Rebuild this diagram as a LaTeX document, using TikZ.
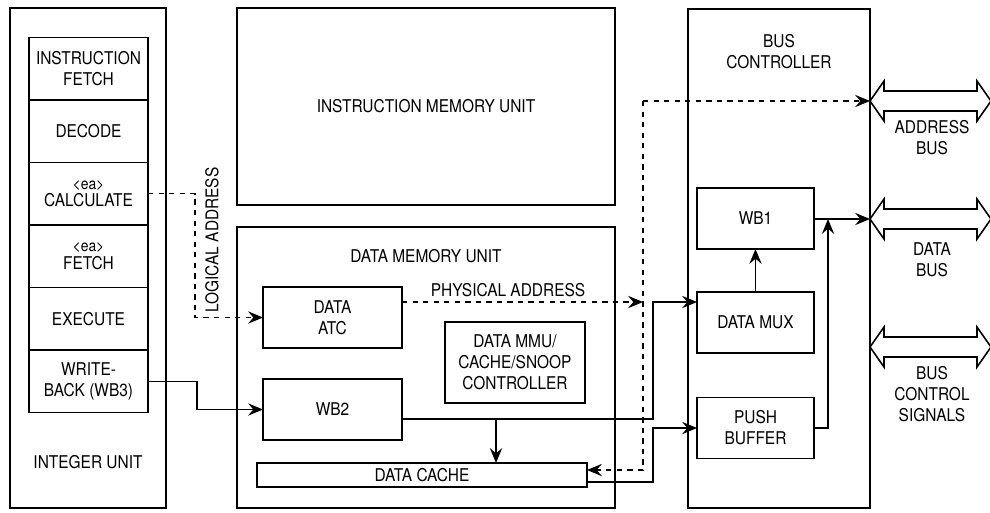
\documentclass[tikz,border=0pt]{standalone}
\usepackage{fontspec}
\setmainfont{TeX Gyre Heros}[FakeStretch=0.88]
\usetikzlibrary{arrows.meta,positioning}

\begin{document}
\begin{tikzpicture}[x=0.02cm, y=-0.02cm, >={Stealth[length=8.5pt,width=7pt,inset=3pt]},
    font=\fontsize{10}{12}\selectfont,
    unit/.style={draw, line width=1.3pt, inner sep=0pt, outer sep=0pt},
    blk/.style={draw, line width=0.9pt, align=center, inner sep=0pt, outer sep=0pt},
    stage/.style={blk, minimum width=2.38cm, minimum height=1.25cm},
    wire/.style={line width=0.75pt},
    bus/.style={draw, line width=0.9pt}]

    \useasboundingbox (0,0) rectangle (990,512);

    % Integer unit
    \node[unit, minimum width=3.12cm, minimum height=10cm] (iu) at (88,258) {};
    \node (iulbl) at (88,462) {INTEGER UNIT};
    \node[stage] (ifetch) at (88.5,68.75) {INSTRUCTION\\FETCH};
    \node[stage, below=0pt of ifetch] (decode) {DECODE};
    \node[stage, below=0pt of decode] (calc) {{\small <ea>}\\[-2pt]CALCULATE};
    \node[stage, below=0pt of calc] (eafetch) {{\small <ea>}\\[-2pt]FETCH};
    \node[stage, below=0pt of eafetch] (execute) {EXECUTE};
    \node[stage, below=0pt of execute] (wb3) {WRITE-\\BACK (WB3)};

    % Instruction memory unit
    \node[unit, minimum width=7.56cm, minimum height=3.94cm] (imu) at (426,106.5) {INSTRUCTION MEMORY UNIT};

    % Data memory unit
    \node[unit, minimum width=7.56cm, minimum height=5.62cm] (dmu) at (426,367.5) {};
    \node (dmulbl) at (426,256) {DATA MEMORY UNIT};
    \node[blk, minimum width=2.78cm, minimum height=1.22cm] (atc) at (332.5,317.5) {DATA\\ATC};
    \node[blk, minimum width=2.78cm, minimum height=1.22cm] (wb2) at (332.5,409.5) {WB2};
    \node[blk, minimum width=2.8cm, minimum height=1.62cm] (mmu) at (515,362.5) {DATA MMU/\\CACHE/SNOOP\\CONTROLLER};
    \node[blk, minimum width=6.6cm, minimum height=0.48cm] (dcache) at (422,475) {DATA CACHE};
    \node (palbl) at (508,290) {PHYSICAL ADDRESS};

    % Bus controller
    \node[unit, minimum width=3.64cm, minimum height=9.98cm] (bc) at (779,258.5) {};
    \node[align=center] (bclbl) at (779,52) {BUS\\CONTROLLER};
    \node[blk, minimum width=2.34cm, minimum height=1.22cm] (wb1) at (755.5,218.5) {WB1};
    \node[blk, minimum width=2.34cm, minimum height=1.22cm] (mux) at (755.5,322.5) {DATA MUX};
    \node[blk, minimum width=2.34cm, minimum height=1.22cm] (push) at (755.5,428) {PUSH\\BUFFER};

    % Buses
    \foreach \y/\n in {101/abus,219/dbus,347/cbus} {
        \draw[bus] (870,\y) -- (884,{\y-20}) -- (884,{\y-10}) -- (977,{\y-10}) -- (977,{\y-20})
            -- (991,\y) -- (977,{\y+20}) -- (977,{\y+10}) -- (884,{\y+10}) -- (884,{\y+20}) -- cycle;
        \coordinate (\n) at (870,\y);
    }
    \node[align=center] (albl) at (932,137.5) {ADDRESS\\BUS};
    \node[align=center] (dlbl) at (932,260) {DATA\\BUS};
    \node[align=center] (clbl) at (932,394) {BUS\\CONTROL\\SIGNALS};

    % Logical address
    \draw[wire, dashed, ->] (calc.east) -- ++(47,0) |- (atc.west);
    \node[rotate=90] (lalbl) at (212,240) {LOGICAL ADDRESS};

    % Write-back
    \draw[wire, ->] (wb3.east) -- ++(49,0) |- (wb2.west);

    % Physical address
    \coordinate (pa) at (643,302);
    \coordinate (ptop) at (643,101);
    \draw[wire, dashed, ->] (atc.east |- pa) -- (pa);
    \draw[wire, dashed, ->] (ptop) -- (abus);
    \draw[wire, dashed, ->] (ptop) |- ([yshift=0.1cm]dcache.east);

    % WB2 to data mux and data cache
    \coordinate (tap) at (496,419);
    \draw[wire, ->] (wb2.east |- tap) -- ++(251,0) |- (mux.west |- pa);
    \draw[wire, ->] (tap) -- (tap |- dcache.north);

    % Data cache to push buffer
    \draw[wire, ->] ([yshift=-0.14cm]dcache.east) -- ++(66,0) |- (push.west);

    % Inside the bus controller
    \coordinate (join) at (828,219);
    \draw[wire, ->] (mux.north) -- (wb1.south);
    \draw[wire, ->] (wb1.east |- dbus) -- (dbus);
    \draw[wire, ->] (push.east) -| (join);

\end{tikzpicture}
\end{document}
